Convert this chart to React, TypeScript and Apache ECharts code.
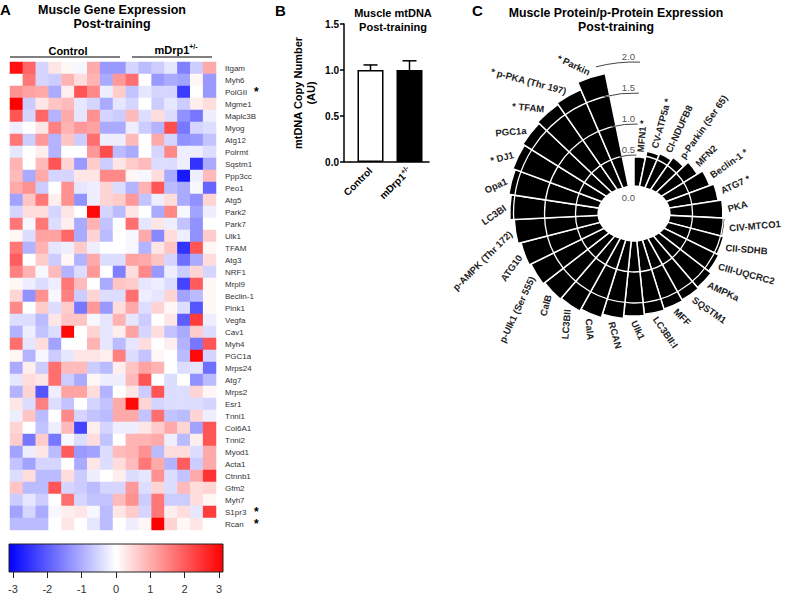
import React, { useEffect, useRef } from 'react';
import * as echarts from 'echarts';

// ---------- Panel A data ----------
const genes = ['Itgam','Myh6','PolGII','Mgme1','Maplc3B','Myog','Atg12','Polrmt','Sqstm1','Ppp3cc','Peo1','Atg5','Park2','Park7','Ulk1','TFAM','Atg3','NRF1','Mrpl9','Beclin-1','Pink1','Vegfa','Cav1','Myh4','PGC1a','Mrps24','Atg7','Mrps2','Esr1','Tnni1','Col6A1','Tnni2','Myod1','Acta1','Ctnnb1','Gfm2','Myh7','S1pr3','Rcan'];
const starredGenes = ['PolGII','S1pr3','Rcan'];
const samples = ['C1','C2','C3','C4','C5','C6','C7','C8','C9','D1','D2','D3','D4','D5','D6','D7'];
const expression: number[][] = [
  [2.8, 1.8, -0.5, 0.3, 0.1, -0.1, 1.0, -1.2, -1.2, -0.5, -0.8, -0.6, -0.3, -1.5, -0.6, 1.0],
  [0, 1.6, -0.5, -0.6, 0.9, 0.4, 0.9, -1.0, 1.2, 1.7, 0, -1.2, -1.0, -1.1, 0.1, -1.2],
  [1.3, 1.1, 1.0, -1.0, 0.2, 2.0, 1.4, -0.2, 0.6, -0.7, -0.3, -0.5, -0.5, -2.3, 0, -1.2],
  [3.0, -0.6, 0.3, 0.7, 0.8, -0.3, -0.5, -1.0, -0.3, -0.5, 0, -0.6, -0.3, -0.6, 0.2, 0.4],
  [2.0, -0.5, 1.8, -0.9, 1.0, -0.3, 1.3, -0.5, -0.6, 0.8, -0.4, 0.4, -0.4, -1.3, -1.6, -0.2],
  [-0.2, 0, 0.3, 1.5, 0.9, 1.2, 1.1, -1.0, -1.0, -0.2, -0.6, -0.9, 2.1, -1.6, -0.5, -0.4],
  [1.6, -0.6, 1.2, -0.9, 0.7, -0.6, 1.7, -0.2, -0.2, 0.8, 0, 1.0, -0.5, -1.3, -1.2, -0.7],
  [-0.3, 0, 0.2, -0.9, 0, 0, 1.2, 2.1, -0.8, -1.0, 0, -0.5, 1.4, -0.2, -0.2, -0.4],
  [0.9, 0, 0.8, 2.0, 0.5, -1.2, 0.6, -0.6, 0.3, 0.6, 0.8, -0.4, -0.4, -0.2, -2.4, -1.0],
  [0.8, -1.0, 1.0, -0.5, -0.5, 0.3, 0.3, 1.4, 1.4, 0.1, -0.1, 0.4, -1.0, -2.7, -0.2, 0.8],
  [1.0, 1.3, -0.6, 0, 1.3, -0.3, -0.2, 0.5, -0.4, -0.9, 0.9, 2.0, -0.8, -1.0, -0.1, -1.8],
  [-1.1, 0.7, 1.6, 0.2, 1.3, -1.3, -0.2, 0.5, 0.6, 1.2, -0.7, -0.2, 0.4, -1.0, -1.3, 0.5],
  [-0.5, 0.4, 0.4, -0.5, 0.3, 0, 2.9, -0.5, -0.8, 0.3, 0, -1.0, 1.4, -0.1, -1.1, -0.2],
  [1.6, -0.1, 1.6, -0.4, 0.2, -1.0, 0.9, -0.7, 0, 1.7, -0.3, 0.3, -0.2, -0.7, -1.3, 0],
  [0.1, -0.4, 1.1, 1.1, 1.8, -1.0, 0.5, -0.8, 0, -0.1, 1.0, -1.4, 0.4, -0.2, -1.3, 0.6],
  [1.6, -0.9, 0.9, -0.3, -0.2, 0.6, -0.2, 0, 0, -0.1, -0.9, 0.3, 0.7, -2.4, 2.0, 0.1],
  [1.9, 0, 0.6, -0.6, 0.1, -0.9, 1.0, -0.4, -0.4, 1.1, 1.0, 0.7, -0.5, -1.7, -1.0, 0.4],
  [1.5, 0.9, -0.1, 0.8, -0.9, -0.4, 1.2, 0, -1.5, 0.4, 1.4, -1.2, -0.2, -0.6, 0.5, -0.5],
  [0.1, -0.2, -0.4, -0.2, 1.6, 0.8, 0, -1.0, 0.7, 0.6, -0.3, -0.2, -0.4, -2.2, 1.9, 0.1],
  [0.5, -1.3, 1.3, -0.1, 1.5, -0.6, 0.5, -0.4, -0.4, 1.7, -0.2, -0.3, 0.5, -1.1, -0.8, 0.1],
  [1.4, 0, 0.6, -0.4, 0.6, -1.6, 1.2, -1.2, 0.4, 1.0, -0.4, 0.5, 0.1, -0.4, -2.0, 0.1],
  [-0.4, -0.4, -0.8, 0.3, 0.7, 0.7, -0.1, -0.3, 0.9, -0.3, -0.6, 0, 0.3, -1.9, 2.3, -0.2],
  [-0.9, -0.2, -0.7, -0.4, 2.9, 0, 0.5, -0.3, 0.2, 1.1, -0.5, 0.4, -0.7, -1.0, 0.6, -0.4],
  [1.7, -0.3, 0.4, -1.1, 0, 0, 0.9, -0.3, -0.8, -0.3, 0.4, 0, 0.2, -0.9, -1.6, 2.0],
  [0.1, -0.9, -0.1, -0.6, -0.3, 0.3, 0.3, 0.2, 1.5, -0.4, -0.7, 0.1, 0, -0.8, 2.9, -0.5],
  [-1.0, 0.2, -0.6, 1.7, 0.8, 0.8, -0.6, -0.8, 0.2, 0.7, 1.1, 0.9, 0, -0.4, -0.3, -1.7],
  [-0.3, 0.4, 0.3, 1.7, -0.6, -1.0, 0.1, -0.2, -0.2, 0.8, 2.0, 0, -0.4, 0, -1.3, -0.8],
  [-0.9, 0.5, -2.0, -0.2, 1.1, 1.1, 0.4, -0.9, 0, 0.3, -0.6, 2.0, -0.4, -0.4, 0.5, 0.1],
  [0.3, -0.4, 1.5, -0.4, -0.7, 0, -0.5, -0.7, 1.0, 2.9, 0.5, -0.5, -0.4, -0.4, -0.4, -0.5],
  [-0.2, 0.7, -0.8, 0, 1.4, -0.5, -0.7, -0.8, 1.0, 1.0, -0.7, 1.7, -0.7, -0.8, 0.5, -0.2],
  [0.5, 0, -0.7, -0.2, 0.8, -2.2, 0.2, -0.5, -0.2, -0.2, 0.3, 0.6, 1.0, 0.5, -1.1, 2.0],
  [0.6, -1.6, 0.6, -1.6, -0.1, -0.4, 0.4, -0.7, 0, 0.9, 0.9, 1.0, -0.2, -0.8, 0.2, 2.0],
  [-1.1, -0.2, 0.3, -0.8, 1.9, -1.2, -1.1, -0.4, 0.8, 0.9, 1.3, -0.8, 0.4, 0.4, -0.4, 1.0],
  [-0.7, -1.1, -0.5, -0.5, 0, -1.0, 0.3, -0.4, 0.4, 0.8, 1.6, 1.0, -0.9, 1.9, -0.6, 1.0],
  [-0.4, 0.4, -0.8, -0.8, 0.4, -0.6, -0.2, 0, 0.2, -0.4, -0.3, 1.3, -0.4, -0.7, 1.0, 2.4],
  [0.7, -0.8, -0.8, 2.0, -0.5, -0.6, -0.8, -0.5, -0.5, 1.2, -0.4, 0.5, -0.4, 0.8, 0.4, 0.5],
  [-0.6, -0.3, -0.6, 0, 1.7, -0.5, -0.7, -0.7, 0.8, 1.3, -0.6, 1.6, -0.6, -0.6, 0.4, 0.1],
  [-1.1, -0.5, -1.0, -0.1, 0.2, 0.3, -0.1, -0.8, 0.3, 0.6, -0.5, 1.6, 0.2, 0.4, -0.3, 2.3],
  [-0.8, -0.8, -0.8, 0, 0.3, 0, -0.3, -0.8, 0, -0.2, 0.1, 3.0, 0.5, 0.1, 0.3, 0],
];
const colorbarMin = -3;
const colorbarMax = 3;

// ---------- Panel B data ----------
const mtdnaGroups = ['Control', 'mDrp1'];
const mtdnaMeans = [1.0, 1.0];
const mtdnaErrors = [0.055, 0.1];

// ---------- Panel C data ----------
const proteins = ['MFN1','CV-ATP5a','CI-NDUFB8','p-Parkin (Ser 65)','MFN2','Beclin-1','ATG7','PKA','CIV-MTCO1','CII-SDHB','CIII-UQCRC2','AMPKa','SQSTM1','MFF','LC3BII:I','Ulk1','RCAN','CalA','LC3BII','CalB','p-Ulk1 (Ser 555)','ATG10','p-AMPK (Thr 172)','LC3BI','Opa1','DJ1','PGC1a','TFAM','p-PKA (Thr 197)','Parkin'];
const proteinValues = [0.47, 0.58, 0.61, 0.66, 0.76, 0.86, 0.93, 0.99, 1.03, 1.05, 1.08, 1.13, 1.15, 1.17, 1.19, 1.21, 1.26, 1.32, 1.36, 1.38, 1.41, 1.44, 1.49, 1.56, 1.6, 1.64, 1.67, 1.7, 1.73, 1.86];
const starredProteins = ['MFN1','CV-ATP5a','Beclin-1','ATG7','DJ1','TFAM','p-PKA (Thr 197)','Parkin'];
const radialTicks = [0, 0.5, 1.0, 1.5, 2.0];

const FONT = '"Liberation Sans", Arial, Helvetica, sans-serif';

export default function App() {
  const ref = useRef<HTMLDivElement>(null);
  useEffect(() => {
    if (!ref.current) return;
    const chart = echarts.init(ref.current, undefined, { renderer: 'svg' });

    const heatData: number[][] = [];
    expression.forEach((row, r) => row.forEach((v, c) => heatData.push([c, r, v])));

    const slots = [...proteins, ''];
    const gapSlot = proteins.length;
    const slotRad = (2 * Math.PI) / slots.length;
    const labelDivisions = 36; // the label angles of the original follow a 36-step circle

    const option: any = {
      animation: false,
      textStyle: { fontFamily: FONT },
      grid: [
        { left: 10, top: 62, width: 206, height: 468 },
        { left: 13, top: 571, width: 206, height: 1 },
        { left: 351, top: 24, width: 78, height: 138 },
      ],
      xAxis: [
        { gridIndex: 0, type: 'category', data: samples, show: false },
        {
          gridIndex: 1, type: 'value', min: colorbarMin, max: colorbarMax, interval: 1,
          axisLine: { show: false },
          axisTick: { show: true, length: 6, lineStyle: { color: '#222', width: 1 } },
          axisLabel: { fontSize: 11, color: '#333', margin: 11 },
          splitLine: { show: false },
        },
        {
          gridIndex: 2, type: 'category', data: mtdnaGroups,
          axisLine: { lineStyle: { color: '#000', width: 1.5 } },
          axisTick: { alignWithLabel: true, length: 5, lineStyle: { color: '#000', width: 1.5 } },
          axisLabel: {
            rotate: 45, fontSize: 10, fontWeight: 'bold', color: '#000', margin: 7,
            formatter: (v: string) => (v === 'mDrp1' ? '{a|mDrp1}{s|+/-}' : '{a|' + v + '}'),
            rich: {
              a: { fontSize: 10, fontWeight: 'bold', color: '#000', fontFamily: FONT },
              s: { fontSize: 7, fontWeight: 'bold', color: '#000', verticalAlign: 'top', padding: [0, 0, 6, 0], fontFamily: FONT },
            },
          },
        },
      ],
      yAxis: [
        {
          gridIndex: 0, type: 'category', data: genes, inverse: true, position: 'right',
          axisLine: { show: false }, axisTick: { show: false },
          axisLabel: {
            fontSize: 8, color: '#333', margin: 9,
            formatter: (v: string) => (starredGenes.includes(v) ? '{n|' + v + '}{s|*}' : v),
            rich: {
              n: { fontSize: 8, color: '#333', width: 29, fontFamily: FONT },
              s: { fontSize: 12, fontWeight: 'bold', color: '#000', fontFamily: FONT },
            },
          },
        },
        { gridIndex: 1, type: 'value', show: false, min: 0, max: 1 },
        {
          gridIndex: 2, type: 'value', min: 0, max: 1.5, interval: 0.5, offset: 7,
          axisLine: { show: true, lineStyle: { color: '#000', width: 1.5 } },
          axisTick: { show: true, length: 4, lineStyle: { color: '#000', width: 1.5 } },
          axisLabel: { fontSize: 10, fontWeight: 'bold', color: '#000', margin: 5, formatter: (v: number) => v.toFixed(1) },
          splitLine: { show: false },
          name: 'mtDNA Copy Number\n(AU)', nameLocation: 'middle', nameGap: 27, nameRotate: 90,
          nameTextStyle: { fontSize: 11, fontWeight: 'bold', color: '#000', lineHeight: 13, fontFamily: FONT },
        },
      ],
      visualMap: {
        show: false, type: 'continuous', min: colorbarMin, max: colorbarMax, seriesIndex: 0,
        inRange: { color: ['#0000ff', '#ffffff', '#ff0000'] },
      },
      polar: { center: [634, 213.5], radius: [27.5, 151.5] },
      angleAxis: {
        type: 'category', data: slots, startAngle: 90, clockwise: true,
        show: false, boundaryGap: true,
      },
      radiusAxis: { type: 'value', min: 0, max: 2, show: false },
      graphic: [
        { type: 'text', left: 0, top: 2, style: { text: 'A', font: 'bold 15px ' + FONT, fill: '#000' } },
        { type: 'text', x: 112, y: 3, style: { text: 'Muscle Gene Expression\nPost-training', font: 'bold 12.5px ' + FONT, fill: '#000', align: 'center', lineHeight: 14 } },
        { type: 'text', x: 68, y: 45, style: { text: 'Control', font: 'bold 11px ' + FONT, fill: '#000', align: 'center' } },
        { type: 'line', shape: { x1: 10, y1: 57, x2: 120, y2: 57 }, style: { stroke: '#000', lineWidth: 1 } },
        { type: 'text', x: 176, y: 43, style: { text: '{a|mDrp1}{s|+/-}', align: 'center', rich: { a: { font: 'bold 11px ' + FONT, fill: '#000', lineHeight: 14 }, s: { font: 'bold 7px ' + FONT, fill: '#000', verticalAlign: 'top', lineHeight: 8 } } } },
        { type: 'line', shape: { x1: 132, y1: 57, x2: 212, y2: 57 }, style: { stroke: '#000', lineWidth: 1 } },
        {
          type: 'rect', shape: { x: 9, y: 544, width: 214, height: 28 },
          style: {
            fill: new echarts.graphic.LinearGradient(0, 0, 1, 0, [
              { offset: 0, color: '#0000ff' }, { offset: 0.5, color: '#ffffff' }, { offset: 1, color: '#ff0000' },
            ]),
            stroke: '#222', lineWidth: 1,
          },
        },
        { type: 'text', left: 275, top: 3, style: { text: 'B', font: 'bold 15px ' + FONT, fill: '#000' } },
        { type: 'text', x: 393, y: 6, style: { text: 'Muscle mtDNA\nPost-training', font: 'bold 11px ' + FONT, fill: '#000', align: 'center', lineHeight: 14 } },
        { type: 'line', shape: { x1: 344, y1: 162, x2: 351, y2: 162 }, style: { stroke: '#000', lineWidth: 1.5 } },
        { type: 'text', left: 472, top: 3, style: { text: 'C', font: 'bold 15px ' + FONT, fill: '#000' } },
        { type: 'text', x: 616, y: 6, style: { text: 'Muscle Protein/p-Protein Expression\nPost-training', font: 'bold 12.3px ' + FONT, fill: '#000', align: 'center', lineHeight: 14 } },
      ],
      series: [
        {
          type: 'heatmap', xAxisIndex: 0, yAxisIndex: 0, data: heatData,
          itemStyle: { borderWidth: 0 }, emphasis: { disabled: true },
        },
        { type: 'scatter', xAxisIndex: 1, yAxisIndex: 1, data: [], silent: true },
        {
          type: 'bar', xAxisIndex: 2, yAxisIndex: 2, barWidth: 26,
          data: mtdnaMeans.map((m, i) => ({
            value: m,
            itemStyle: i === 0 ? { color: '#fff', borderColor: '#000', borderWidth: 1.5 } : { color: '#000', borderColor: '#000', borderWidth: 1.5 },
          })),
          z: 2,
        },
        {
          type: 'custom', xAxisIndex: 2, yAxisIndex: 2, z: 3,
          data: mtdnaMeans.map((m, i) => [i, m, m + mtdnaErrors[i]]),
          renderItem: (params: any, api: any) => {
            const p1 = api.coord([api.value(0), api.value(1)]);
            const p2 = api.coord([api.value(0), api.value(2)]);
            const h = 7;
            return {
              type: 'group',
              children: [
                { type: 'line', shape: { x1: p1[0], y1: p1[1], x2: p2[0], y2: p2[1] }, style: { stroke: '#000', lineWidth: 1.5 } },
                { type: 'line', shape: { x1: p2[0] - h, y1: p2[1], x2: p2[0] + h, y2: p2[1] }, style: { stroke: '#000', lineWidth: 1.5 } },
              ],
            };
          },
        },
        {
          type: 'bar', coordinateSystem: 'polar', barCategoryGap: '0%',
          data: [...proteinValues, '-'],
          itemStyle: { color: '#000', borderColor: '#fff', borderWidth: 1.5 },
          z: 2,
        },
        {
          // white reference circles over the bars and the white centre
          type: 'custom', coordinateSystem: 'polar', z: 3, silent: true,
          data: radialTicks.filter((t) => t < 2).map((t) => [t, 0]),
          encode: { radius: 0, angle: 1 },
          renderItem: (params: any, api: any) => {
            const cs = params.coordSys;
            const v = api.value(0);
            const p = api.coord([v, 0]);
            const r = Math.hypot(p[0] - cs.cx, p[1] - cs.cy);
            if (v === 0) {
              return { type: 'ellipse', shape: { cx: cs.cx, cy: cs.cy, rx: r * 1.33, ry: r }, style: { fill: '#fff', stroke: 'none' } };
            }
            return { type: 'circle', shape: { cx: cs.cx, cy: cs.cy, r }, style: { fill: 'none', stroke: '#fff', lineWidth: 1.3 } };
          },
        },
        {
          // radial scale in the gap
          type: 'custom', coordinateSystem: 'polar', z: 4, silent: true,
          data: radialTicks.map((t) => [t, gapSlot]),
          encode: { radius: 0, angle: 1 },
          renderItem: (params: any, api: any) => {
            const cs = params.coordSys;
            const v = api.value(0);
            const p = api.coord([v, gapSlot]);
            const r = Math.hypot(p[0] - cs.cx, p[1] - cs.cy);
            const children: any[] = [];
            if (v > 0) {
              children.push({ type: 'text', x: cs.cx + 1, y: cs.cy - r - 1, style: { text: v.toFixed(1), font: '9.5px ' + FONT, fill: '#555', align: 'right', verticalAlign: 'bottom' } });
              children.push({ type: 'arc', shape: { cx: cs.cx, cy: cs.cy, r, startAngle: -Math.PI / 2 - slotRad * 1.25, endAngle: -Math.PI / 2 + 0.04, clockwise: true }, style: { fill: 'none', stroke: '#444', lineWidth: 1 } });
            } else {
              children.push({ type: 'text', x: cs.cx + 1, y: cs.cy - r + 6, style: { text: v.toFixed(1), font: '9.5px ' + FONT, fill: '#555', align: 'right', verticalAlign: 'top' } });
            }
            return { type: 'group', children };
          },
        },
        {
          // protein labels, anchored just past each bar end
          type: 'custom', coordinateSystem: 'polar', z: 4, silent: true,
          data: proteinValues.map((v, i) => [v, i]),
          encode: { radius: 0, angle: 1 },
          renderItem: (params: any, api: any) => {
            const cs = params.coordSys;
            const i = params.dataIndex;
            const p = api.coord([api.value(0), api.value(1)]);
            const dx = p[0] - cs.cx, dy = p[1] - cs.cy;
            const d = Math.hypot(dx, dy);
            const gap = 5;
            const x = p[0] + (dx / d) * gap, y = p[1] + (dy / d) * gap;
            let angle = 90 - (360 * (i + 0.5)) / labelDivisions;
            const flipped = angle < -90;
            if (flipped) angle += 180;
            const name = proteins[i];
            const star = starredProteins.includes(name);
            const text = star ? (flipped ? '* ' + name : name + ' *') : name;
            return {
              type: 'text', x, y, rotation: (angle * Math.PI) / 180,
              style: { text, font: 'bold 9.5px ' + FONT, fill: '#222', align: flipped ? 'right' : 'left', verticalAlign: 'middle' },
            };
          },
        },
      ],
    };
    chart.setOption(option);
    return () => chart.dispose();
  }, []);
  return <div ref={ref} style={{ position: 'absolute', left: 0, top: 0, width: 787, height: 602 }} />;
}
